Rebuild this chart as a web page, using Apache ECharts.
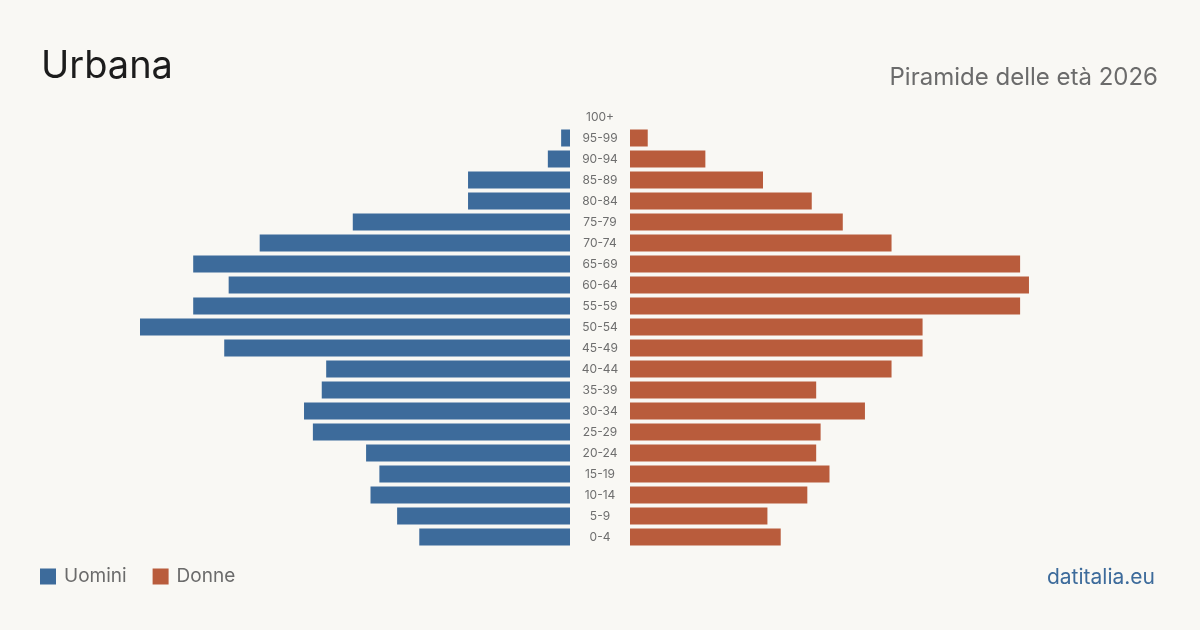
<!DOCTYPE html>
<html>
<head>
<meta charset="utf-8">
<script src="https://cdn.jsdelivr.net/npm/echarts@6/dist/echarts.min.js"></script>
<style>
html,body{margin:0;padding:0;background:#f9f8f4;}
#c{width:1200px;height:630px;}
</style>
</head>
<body>
<div id="c"></div>
<script>
const ageGroups = ['0-4','5-9','10-14','15-19','20-24','25-29','30-34','35-39','40-44','45-49','50-54','55-59','60-64','65-69','70-74','75-79','80-84','85-89','90-94','95-99','100+'];
const men   = [34,39,45,43,46,58,60,56,55,78,97,85,77,85,70,49,23,23,5,2,0];
const women = [34,31,40,45,42,43,53,42,59,66,66,88,90,88,59,48,41,30,17,4,0];
const axisMax = 97;

const chart = echarts.init(document.getElementById('c'), null, {renderer:'canvas'});
const FONT = 'Inter, "Noto Sans", sans-serif';
chart.setOption({
  backgroundColor: '#f9f8f4',
  animation: false,
  textStyle: {fontFamily: FONT},
  title: [
    {text: 'Urbana', left: 36, top: 43, textStyle: {fontSize: 38, fontWeight: 'normal', color: '#1c1c1c', fontFamily: FONT}},
    {text: 'Piramide delle età 2026', right: 37, top: 61, textStyle: {fontSize: 24, fontWeight: 'normal', color: '#6b6b6b', fontFamily: FONT}},
    {text: 'datitalia.eu', right: 40, top: 562, textStyle: {fontSize: 21, fontWeight: 'normal', color: '#3d6b9b', fontFamily: FONT}}
  ],
  legend: {
    left: 35, top: 562, icon: 'rect', itemWidth: 16, itemHeight: 16, itemGap: 26,
    textStyle: {fontSize: 19, color: '#6b6b6b', fontFamily: FONT, padding: [0,0,0,3]},
    data: ['Uomini','Donne']
  },
  grid: [
    {left: 140, width: 430, top: 106.5, height: 441},
    {left: 630, width: 430, top: 106.5, height: 441}
  ],
  xAxis: [
    {gridIndex: 0, type: 'value', min: 0, max: axisMax, inverse: true, show: false},
    {gridIndex: 1, type: 'value', min: 0, max: axisMax, show: false}
  ],
  yAxis: [
    {gridIndex: 0, type: 'category', data: ageGroups, position: 'right',
     axisLine: {show: false}, axisTick: {show: false},
     axisLabel: {show: true, align: 'center', margin: 30, fontSize: 12, color: '#6e6e6e', fontFamily: FONT}},
    {gridIndex: 1, type: 'category', data: ageGroups, show: false}
  ],
  series: [
    {name: 'Uomini', type: 'bar', xAxisIndex: 0, yAxisIndex: 0, data: men, barCategoryGap: '19%',
     itemStyle: {color: '#3d6b9b'}},
    {name: 'Donne', type: 'bar', xAxisIndex: 1, yAxisIndex: 1, data: women, barCategoryGap: '19%',
     itemStyle: {color: '#b95c3c'}}
  ]
});
</script>
</body>
</html>
